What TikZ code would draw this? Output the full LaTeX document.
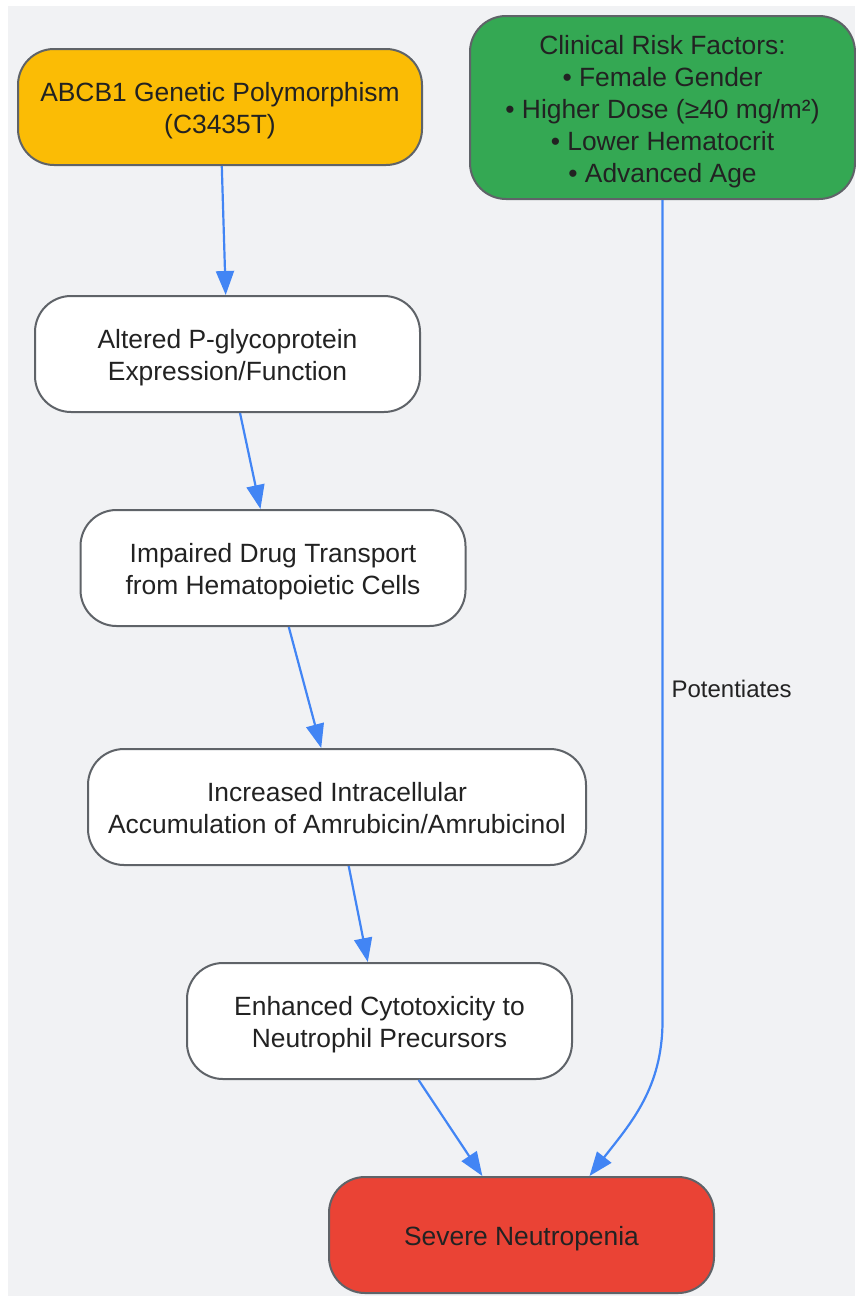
\documentclass[tikz,border=0pt]{standalone}
\usepackage{fontspec}
\setmainfont{Liberation Sans}
\usepackage{xcolor}
\usetikzlibrary{shapes,arrows.meta}

\definecolor{bgcol}{HTML}{F1F2F4}
\definecolor{edgecol}{HTML}{5F6368}
\definecolor{txtcol}{HTML}{222222}
\definecolor{arrowcol}{HTML}{4285F4}
\definecolor{genecol}{HTML}{FBBC05}
\definecolor{riskcol}{HTML}{34A853}
\definecolor{outcol}{HTML}{EA4335}

\tikzset{
    stepbox/.style={draw=edgecol, line width=2pt, rounded corners=36pt, fill=white,
        minimum width=385pt, minimum height=116pt, inner sep=0pt, align=center,
        text=txtcol, font=\fontsize{26.4pt}{32pt}\selectfont,
        text height=59pt, text depth=6pt},
    flow/.style={draw=arrowcol, line width=2.2pt, -{Triangle[length=24pt,width=18pt]}}
}

\begin{document}
\begin{tikzpicture}[x=1pt,y=-1pt]
        \useasboundingbox (0,0) rectangle (855,1296);
        \fill[bgcol] (8,6) rectangle (855,1296);

        \node (gene) [stepbox, fill=genecol, minimum width=404pt] at (220,107)
            {ABCB1 Genetic Polymorphism\\(C3435T)};
        \node (risk) [stepbox, fill=riskcol, minimum height=183pt, text height=155pt]
            at (662.5,107.5)
            {Clinical Risk Factors:\\
             • Female Gender\\
             • Higher Dose (≥40 mg/m²)\\
             • Lower Hematocrit\\
             • Advanced Age};
        \node (pgp) [stepbox] at (227.5,354)
            {Altered P-glycoprotein\\Expression/Function};
        \node (transport) [stepbox] at (273,568)
            {Impaired Drug Transport\\from Hematopoietic Cells};
        \node (accum) [stepbox, minimum width=498pt] at (337,807)
            {Increased Intracellular\\Accumulation of Amrubicin/Amrubicinol};
        \node (cyto) [stepbox] at (379.5,1021)
            {Enhanced Cytotoxicity to\\Neutrophil Precursors};
        \node (neutro) [stepbox, fill=outcol, text height=27pt] at (521.5,1235)
            {Severe Neutropenia};

        \draw[flow] (gene) -- (pgp);
        \draw[flow] (pgp) -- (transport);
        \draw[flow] (transport) -- (accum);
        \draw[flow] (accum) -- (cyto);
        \draw[flow] (cyto) -- (neutro);

        \coordinate (bend) at (risk.south |- cyto.center);
        \draw[flow] (risk.south) -- (bend)
            to[out=-90,in=52] ([xshift=68pt]neutro.north);
        \node (label) [anchor=west, text=txtcol, font=\fontsize{24pt}{28pt}\selectfont]
            at (668,689) {Potentiates};
    \end{tikzpicture}
\end{document}
